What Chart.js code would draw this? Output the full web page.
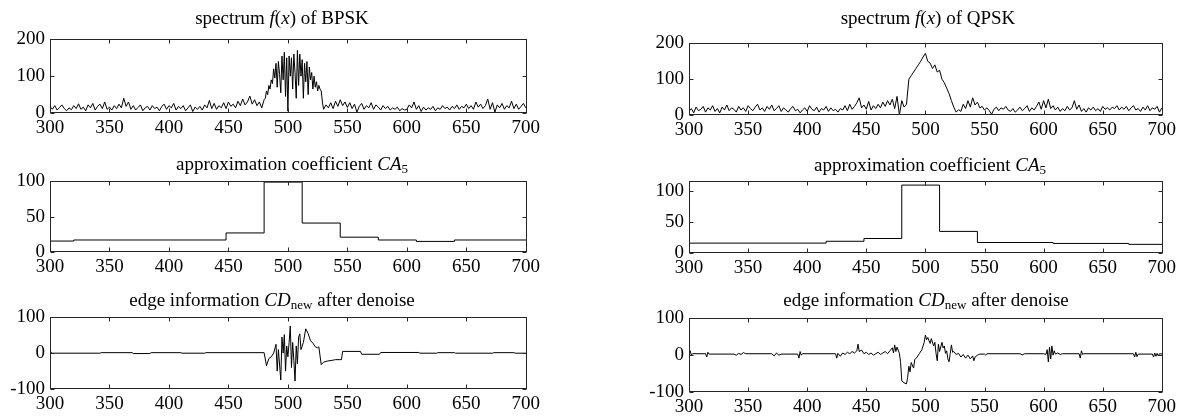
<!DOCTYPE html>
<html>
<head>
<meta charset="utf-8">
<script src="https://cdn.jsdelivr.net/npm/chart.js@4.4.0/dist/chart.umd.min.js"></script>
<style>
  body { margin: 0; background: #fff; }
  #page { position: relative; width: 1177px; height: 416px; overflow: hidden; font-family: "Liberation Serif", "Times New Roman", serif; }
  .panel { position: absolute; }
  .ttl { position: absolute; font-size: 19px; line-height: 18px; white-space: nowrap; transform: translateX(-50%); color: #000; }
  .ttl sub { font-size: 13px; vertical-align: baseline; position: relative; top: 3px; }
</style>
</head>
<body>
<div id="page"></div>
<script>
/* ================= DATA ================= */

const xTicks = [300, 350, 400, 450, 500, 550, 600, 650, 700];
const xMin = 300, xMax = 701;

// spectra, sampled every 2 bins from 300
const specStart = 300, specStep = 2;

const bpskSpectrum = [
  18,10,20,8,15,22,12,6,14,9,
  20,12,25,10,16,6,22,14,26,8,
  18,24,12,30,10,16,8,20,12,24,
  14,40,18,30,10,20,8,15,22,6,
  14,18,8,20,12,16,6,18,24,10,
  20,14,26,8,18,12,20,6,14,22,
  4,16,10,18,8,22,14,34,12,26,
  10,20,14,28,12,30,18,24,14,32,
  20,38,22,30,46,24,36,20,30,14,
  36,55,70,80,135,100,140,60,160,95,
  10,160,70,150,55,170,80,140,45,145,
  60,110,75,70,55,10,22,14,28,12,
  32,18,36,20,30,15,28,12,24,2,
  18,26,10,20,14,28,10,22,16,8,
  20,12,18,8,14,10,16,6,12,8,
  10,22,14,30,10,20,4,16,8,14,
  10,18,6,14,10,20,12,16,8,18,
  12,22,10,18,14,24,12,20,10,30,
  16,24,12,20,38,10,28,2,22,14,
  26,10,20,14,32,12,24,10,18,26,
  14
];

// BPSK main lobe, every bin from 481 to 529
const bpskCoreStart = 481;
const bpskCore = [
  40,60,50,75,65,90,80,120,
  95,135,70,140,105,55,155,90,165,45,
  150,5,155,100,150,65,160,110,40,170,
  75,160,100,145,40,135,85,140,50,125,
  90,110,65,100,70,85,60,75,65,60,30
];

const qpskSpectrum = [
  10,18,6,22,12,16,24,8,20,14,
  26,10,18,6,22,14,28,12,20,16,
  8,24,14,20,10,26,18,12,22,30,
  14,20,10,24,16,28,12,18,26,10,
  20,14,8,18,24,12,16,6,14,20,
  10,26,16,12,22,8,18,14,24,10,
  20,12,16,8,18,14,26,12,30,16,
  24,34,48,20,28,16,38,14,26,18,
  30,20,36,24,40,28,44,18,52,0,
  40,22,30,100,110,120,130,140,150,162,
  172,150,145,130,140,120,125,100,90,75,
  60,40,22,8,15,10,30,18,40,22,
  48,28,36,20,24,14,20,12,2,16,
  22,12,20,16,24,14,10,18,8,14,
  22,12,18,26,10,20,14,24,36,16,
  40,20,44,18,26,14,22,10,18,12,
  24,14,20,40,16,28,10,18,8,20,
  14,22,12,18,10,24,16,20,14,22,
  18,26,14,22,16,24,12,20,26,14,
  18,10,22,14,26,12,20,16,24,8,
  20
];

// approximation coefficient CA5 (one level per 32 bins)
const caBpskX = [300, 320, 448, 480, 512, 544, 576, 608, 640, 701];
const caBpskY = [15.5, 17, 27, 99, 41, 21, 17, 15, 17, 17];
const caQpskX = [300, 416, 448, 480, 512, 544, 608, 672, 701];
const caQpskY = [16, 19, 23.5, 110, 35, 17, 15.5, 14, 14];

// edge information CDnew after denoise, [bin, value]
const cdBpsk = [
  [300,3],[301,3],[302,0],[342,0],[343,1.5],[369,1.5],[370,-1],[384,-1],[385,1.5],
  [410,1.5],[411,0],[430,0],[431,1.5],[480,1.5],[482,-35],[484,-15],[486,-10],
  [488,0],[490,25],[491,-50],[492,10],[494,-75],[495,45],[496,0],[497,52],[498,-50],
  [499,20],[500,-10],[501,30],[502,76],[503,-40],[504,30],[505,-20],[506,-78],
  [507,20],[508,-30],[509,45],[510,54],[511,10],[513,30],[515,68],[517,55],[519,35],
  [521,28],[523,18],[525,15],[526,18],[528,-32],[530,-25],[533,-22],[537,-20],
  [540,-18],[545,-18],[546,5],[561,5],[562,-3],[577,-3],[578,2],[610,2],[611,0],
  [625,0],[626,1.5],[640,1.5],[641,0],[672,0],[673,1.5],[690,1.5],[691,0],[701,0]
];

const cdQpsk = [
  [300,3],[301,12],[302,0],[303,4],[314,4],[315,-5],[316,8],[317,3],[338,3],[340,0],
  [342,5],[344,2],[346,7],[348,4],[370,4],[372,-2],[374,6],[376,0],[378,3],[392,3],
  [393,-8],[394,10],[395,0],[396,4],[424,4],[425,-8],[426,5],[428,-3],[430,6],[432,2],
  [434,8],[436,4],[438,10],[440,6],[442,12],[443,30],[444,10],[446,14],[448,4],[450,8],
  [452,2],[454,6],[456,0],[458,4],[460,8],[462,2],[464,6],[466,10],[468,4],[470,12],
  [472,20],[473,6],[474,28],[475,10],[476,22],[478,5],[479,-20],[480,-70],[482,-75],
  [484,-78],[485,-60],[486,-30],[487,-45],[488,-20],[490,-35],[491,-12],[493,-5],
  [495,5],[497,15],[499,35],[500,55],[501,42],[502,48],[504,32],[505,45],[507,25],
  [508,35],[509,5],[510,-15],[511,30],[512,10],[514,35],[515,20],[516,25],[517,5],
  [518,12],[519,-10],[520,-18],[521,5],[522,28],[523,8],[524,10],[526,2],[528,5],
  [530,-5],[532,2],[534,-8],[536,0],[538,-10],[540,-2],[541,-15],[542,-5],[544,0],
  [546,3],[550,3],[551,0],[552,4],[580,4],[582,1],[584,4],[600,4],[602,2],[603,15],
  [604,-18],[605,22],[606,-10],[607,25],[608,0],[609,12],[610,3],[612,6],[614,2],
  [616,4],[630,4],[631,-8],[632,12],[633,2],[634,4],[676,4],[677,-5],[678,8],[679,-4],
  [680,3],[692,3],[693,-5],[694,6],[695,-3],[696,5],[697,-2],[698,4],[701,3]
];

const specTicks = [0, 100, 200];
const caTicks = [0, 50, 100];
const cdTicks = [-100, 0, 100];

/* ================= LAYOUT ================= */

const FONT = '"Liberation Serif", "Times New Roman", serif';
const ML = 50, MT = 12, MR = 24, MB = 32;
const page = document.getElementById("page");

// inward ticks on all four sides plus the closed box
const frame = {
  id: "frame",
  afterDatasetsDraw(chart) {
    const { ctx, chartArea: a, scales: { x, y } } = chart;
    const L = Math.round(a.left) + 0.5, R = Math.round(a.right) - 0.5;
    const T = Math.round(a.top) + 0.5, B = Math.round(a.bottom) - 0.5;
    ctx.save();
    ctx.strokeStyle = "#262626";
    ctx.lineWidth = 1;
    ctx.beginPath();
    x.ticks.forEach(t => {
      const px = Math.round(x.getPixelForValue(t.value)) + 0.5;
      ctx.moveTo(px, B); ctx.lineTo(px, B - 4);
      ctx.moveTo(px, T); ctx.lineTo(px, T + 4);
    });
    y.ticks.forEach(t => {
      const py = Math.round(y.getPixelForValue(t.value)) + 0.5;
      ctx.moveTo(L, py); ctx.lineTo(L + 4, py);
      ctx.moveTo(R, py); ctx.lineTo(R - 4, py);
    });
    ctx.stroke();
    ctx.strokeRect(L, T, R - L, B - T);
    ctx.restore();
  }
};

function addTitle(html, cx, cy) {
  const d = document.createElement("div");
  d.className = "ttl";
  d.innerHTML = html;
  d.style.left = cx + "px";
  d.style.top = (cy - 9) + "px";
  page.appendChild(d);
}

function addPanel(box, points, yMin, yMax, yTicks, stepped) {
  const div = document.createElement("div");
  div.className = "panel";
  div.style.left = (box[0] - ML) + "px";
  div.style.top = (box[1] - MT) + "px";
  div.style.width = (box[2] - box[0] + ML + MR) + "px";
  div.style.height = (box[3] - box[1] + MT + MB) + "px";
  const cv = document.createElement("canvas");
  div.appendChild(cv);
  page.appendChild(div);

  const tickFont = { family: FONT, size: 19 };

  new Chart(cv, {
    type: "line",
    data: {
      datasets: [{
        data: points,
        borderColor: "#000",
        borderWidth: 1,
        pointRadius: 0,
        tension: 0,
        fill: false,
        stepped: stepped || false
      }]
    },
    options: {
      responsive: true,
      maintainAspectRatio: false,
      animation: false,
      events: [],
      layout: { padding: { left: 0, top: MT, right: MR, bottom: 0 } },
      plugins: { legend: { display: false }, tooltip: { enabled: false } },
      scales: {
        x: {
          type: "linear",
          min: xMin,
          max: xMax,
          afterBuildTicks: s => { s.ticks = xTicks.map(v => ({ value: v })); },
          afterFit: s => { s.height = MB; },
          grid: { display: false, drawTicks: false },
          border: { display: false },
          ticks: { color: "#000", font: tickFont, padding: 4, maxRotation: 0, autoSkip: false }
        },
        y: {
          min: yMin,
          max: yMax,
          afterBuildTicks: s => { s.ticks = yTicks.map(v => ({ value: v })); },
          afterFit: s => { s.width = ML; },
          grid: { display: false, drawTicks: false },
          border: { display: false },
          ticks: { color: "#000", font: tickFont, padding: 5 }
        }
      }
    },
    plugins: [frame]
  });
}

const specPts = vals => vals.map((v, i) => ({ x: specStart + i * specStep, y: v }));
const stepPts = (xs, ys) => xs.map((v, i) => ({ x: v, y: ys[i] }));
const pairPts = arr => arr.map(p => ({ x: p[0], y: p[1] }));

// coarse spectrum outside the lobe, fine samples inside it
function withCore(vals, coreStart, core) {
  const coreEnd = coreStart + core.length - 1;
  const outer = specPts(vals).filter(p => p.x < coreStart || p.x > coreEnd);
  const inner = core.map((v, i) => ({ x: coreStart + i, y: v }));
  return outer.concat(inner).sort((a, b) => a.x - b.x);
}

/* ================= PANELS ================= */

addPanel([50, 35, 527, 113], withCore(bpskSpectrum, bpskCoreStart, bpskCore), 0, 200, specTicks);
addPanel([689, 39, 1163, 115], specPts(qpskSpectrum), 0, 200, specTicks);
addPanel([50, 177, 527, 252], stepPts(caBpskX, caBpskY), 0, 100, caTicks, "before");
addPanel([689, 177, 1163, 253], stepPts(caQpskX, caQpskY), 0, 116, caTicks, "before");
addPanel([50, 313, 527, 389], pairPts(cdBpsk), -100, 100, cdTicks);
addPanel([689, 314, 1163, 392], pairPts(cdQpsk), -100, 100, cdTicks);

addTitle('spectrum <i>f</i>(<i>x</i>) of BPSK', 282, 18);
addTitle('spectrum <i>f</i>(<i>x</i>) of QPSK', 928, 18);
addTitle('approximation coefficient <i>CA</i><sub>5</sub>', 292, 164);
addTitle('approximation coefficient <i>CA</i><sub>5</sub>', 930, 165);
addTitle('edge information <i>CD</i><sub>new</sub> after denoise', 272, 300);
addTitle('edge information <i>CD</i><sub>new</sub> after denoise', 926, 300);
</script>
</body>
</html>
